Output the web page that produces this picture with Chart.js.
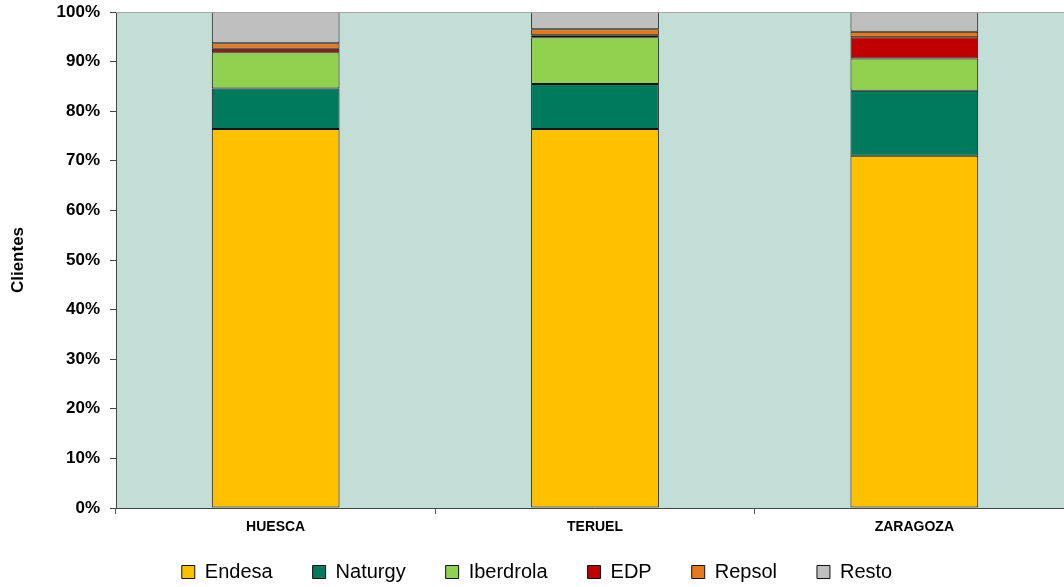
<!DOCTYPE html>
<html>
<head>
<meta charset="utf-8">
<script src="https://cdn.jsdelivr.net/npm/chart.js@4.4.1/dist/chart.umd.min.js"></script>
<style>
  body { margin: 0; background: #fff; overflow: hidden; }
  .wrap { width: 1074px; height: 587px; position: relative; }
</style>
</head>
<body>
<div class="wrap"><canvas id="myChart"></canvas></div>
<script>
// Provinces and market shares (% of clients)
const provinces = ['HUESCA', 'TERUEL', 'ZARAGOZA'];
const endesa = [76.4, 76.4, 71.0];
const naturgy = [8.2, 9.1, 13.1];
const iberdrola = [7.3, 9.4, 6.5];
const edp = [0.7, 0.4, 4.3];
const repsol = [1.1, 1.2, 1.1];
const resto = [6.3, 3.5, 4.0];
const yTicks = [0, 10, 20, 30, 40, 50, 60, 70, 80, 90, 100];

const colors = ['#FFC000', '#007A5C', '#92D050', '#C00000', '#E8791A', '#BFBFBF'];
const names = ['Endesa', 'Naturgy', 'Iberdrola', 'EDP', 'Repsol', 'Resto'];
const series = [endesa, naturgy, iberdrola, edp, repsol, resto];

const FONT = '"Liberation Sans", Arial, sans-serif';

// plot background + grey top line
const plotBg = {
    id: 'plotBg',
    beforeDraw(chart) {
        const { ctx, chartArea: a } = chart;
        ctx.save();
        ctx.fillStyle = '#C3DED7';
        ctx.fillRect(a.left, a.top, a.right - a.left, a.bottom - a.top);
        ctx.restore();
    },
    afterDraw(chart) {
        const { ctx, chartArea: a } = chart;
        ctx.save();
        ctx.strokeStyle = '#A6A6A6';
        ctx.lineWidth = 1;
        ctx.beginPath();
        ctx.moveTo(a.left, a.top + 0.5);
        ctx.lineTo(a.right, a.top + 0.5);
        ctx.stroke();
        ctx.restore();
    },
    // legend sits lower than the space it reserves
    afterLayout(chart) {
        if (chart.legend) {
            chart.legend.top = 522;
            chart.legend.bottom = 592;
        }
    }
};

const ctx = document.getElementById('myChart').getContext('2d');

const myChart = new Chart(ctx, {
    type: 'bar',
    data: {
        labels: provinces,
        datasets: names.map((n, i) => ({
            label: n,
            data: series[i],
            backgroundColor: colors[i],
            borderColor: '#111',
            borderWidth: 1,
            borderSkipped: false,
            categoryPercentage: 1,
            barPercentage: 0.4
        }))
    },
    options: {
        responsive: true,
        maintainAspectRatio: false,
        animation: false,
        layout: { padding: { top: 12, right: 0, left: 0, bottom: 0 } },
        scales: {
            x: {
                stacked: true,
                grid: { offset: true, drawOnChartArea: false, drawTicks: true, tickLength: 6, color: '#555' },
                border: { display: true, color: '#444', width: 1 },
                ticks: { color: '#000', padding: 5, font: { family: FONT, size: 14, weight: 'bold' } },
                afterFit(scale) { scale.height = 49; scale.paddingLeft = 0; scale.paddingRight = 0; }
            },
            y: {
                stacked: true,
                min: 0,
                max: 100,
                afterBuildTicks(scale) { scale.ticks = yTicks.map(v => ({ value: v })); },
                grid: { drawOnChartArea: false, drawTicks: true, tickLength: 6, color: '#444' },
                border: { display: true, color: '#444', width: 1 },
                ticks: {
                    color: '#000',
                    padding: 10,
                    font: { family: FONT, size: 17, weight: 'bold' },
                    callback: v => v + '%'
                },
                title: {
                    display: true,
                    text: 'Clientes',
                    color: '#000',
                    padding: { top: 8, bottom: 0 },
                    font: { family: FONT, size: 17, weight: 'bold' }
                },
                afterFit(scale) { scale.width = 116; scale.paddingTop = 0; scale.paddingBottom = 0; }
            }
        },
        plugins: {
            legend: {
                position: 'bottom',
                maxHeight: 30,
                labels: {
                    color: '#000',
                    boxWidth: 13,
                    boxHeight: 13,
                    padding: 40,
                    font: { family: FONT, size: 20 }
                }
            },
            tooltip: { enabled: false }
        }
    },
    plugins: [plotBg]
});
</script>
</body>
</html>
